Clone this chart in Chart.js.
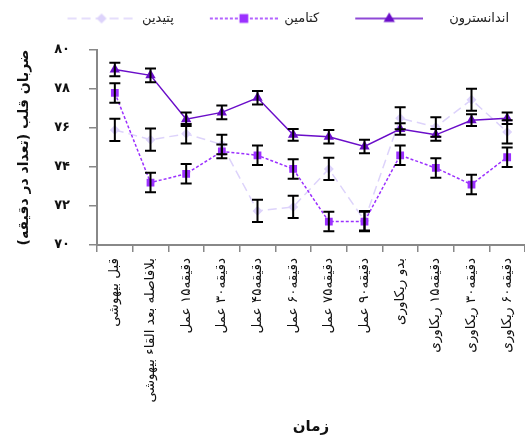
<!DOCTYPE html>
<html><head><meta charset="utf-8">
<script src="https://cdn.jsdelivr.net/npm/chart.js@4/dist/chart.umd.min.js"></script>
<style>html,body{margin:0;padding:0;background:#fff}#c{display:block}</style>
</head><body>
<canvas id="c" width="525" height="438"></canvas>
<script>
const categories = ["قبل بیهوشی","بلافاصله بعد القاء بیهوشی","دقیقه۱۵ عمل","دقیقه۳۰ عمل","دقیقه۴۵ عمل","دقیقه۶۰ عمل","دقیقه۷۵ عمل","دقیقه۹۰ عمل","بدو ریکاوری","دقیقه۱۵ ریکاوری","دقیقه۳۰ ریکاوری","دقیقه۶۰ ریکاوری"];
const seriesNames = ["اندانسترون","کتامین","پتیدین"];
const ondansetron = [79.0, 78.7, 76.45, 76.8, 77.55, 75.65, 75.55, 75.05, 75.95, 75.65, 76.4, 76.5];
const ondansetronErr = [0.35, 0.35, 0.35, 0.35, 0.35, 0.3, 0.35, 0.35, 0.3, 0.3, 0.3, 0.3];
const ketamine = [77.8, 73.2, 73.65, 74.8, 74.6, 73.9, 71.2, 71.2, 74.6, 73.95, 73.1, 74.5];
const ketamineErr = [0.5, 0.5, 0.5, 0.35, 0.5, 0.5, 0.5, 0.5, 0.5, 0.5, 0.5, 0.5];
const pethidine = [75.9, 75.4, 75.7, 75.15, 71.75, 71.95, 73.9, 71.25, 76.5, 76.05, 77.45, 75.8];
const pethidineErr = [0.57, 0.57, 0.5, 0.5, 0.57, 0.57, 0.57, 0.5, 0.56, 0.5, 0.56, 0.6];
const yTicks = [70, 72, 74, 76, 78, 80];
const yTitle = "ضربان قلب (تعداد در دقیقه)";
const xTitle = "زمان";

const FONT = "'DejaVu Sans', sans-serif";
const colors = ['#6a0dc9', '#9b30ff', '#ddd3fb'];
const dashes = [[], [3, 2], [9, 5]];
const styles = ['triangle', 'rect', 'rectRot'];
const radii = [6, 5.5, 5];
const errs = [ondansetronErr, ketamineErr, pethidineErr];
const SAMPLE_BLANK = 20, SAMPLE_LEN = 68;

const toFa = s => String(s).replace(/\d/g, d => '۰۱۲۳۴۵۶۷۸۹'[d]);

function sample(i) {
  const cv = document.createElement('canvas');
  cv.width = SAMPLE_BLANK + SAMPLE_LEN; cv.height = 14;
  const g = cv.getContext('2d');
  const x0 = SAMPLE_BLANK, cx = x0 + SAMPLE_LEN / 2;
  g.strokeStyle = colors[i]; g.lineWidth = 1.5; g.setLineDash(dashes[i]);
  g.beginPath(); g.moveTo(x0, 7); g.lineTo(x0 + SAMPLE_LEN, 7); g.stroke();
  g.setLineDash([]);
  g.fillStyle = colors[i];
  const r = radii[i];
  g.beginPath();
  if (styles[i] === 'triangle') { g.moveTo(cx, 7 - r); g.lineTo(cx + r * 0.95, 7 + r * 0.6); g.lineTo(cx - r * 0.95, 7 + r * 0.6); }
  else if (styles[i] === 'rect') { g.rect(cx - r * 0.8, 7 - r * 0.8, r * 1.6, r * 1.6); }
  else { g.moveTo(cx, 7 - r); g.lineTo(cx + r, 7); g.lineTo(cx, 7 + r); g.lineTo(cx - r, 7); }
  g.closePath(); g.fill();
  return cv;
}
const samples = [0, 1, 2].map(sample);

const errorBars = {
  id: 'errorBars',
  afterDatasetsDraw(chart) {
    const ctx = chart.ctx, y = chart.scales.y;
    ctx.save();
    ctx.strokeStyle = '#000'; ctx.lineWidth = 2;
    chart.data.datasets.forEach((ds, di) => {
      const meta = chart.getDatasetMeta(di);
      meta.data.forEach((pt, i) => {
        const v = ds.data[i], e = errs[di][i];
        const x = pt.x, t = y.getPixelForValue(v + e), b = y.getPixelForValue(v - e);
        ctx.beginPath();
        ctx.moveTo(x, t); ctx.lineTo(x, b);
        ctx.moveTo(x - 5.5, t); ctx.lineTo(x + 5.5, t);
        ctx.moveTo(x - 5.5, b); ctx.lineTo(x + 5.5, b);
        ctx.stroke();
      });
    });
    ctx.restore();
  }
};

const datasets = [ondansetron, ketamine, pethidine].map((d, i) => ({
  label: seriesNames[i],
  data: d,
  borderColor: colors[i],
  backgroundColor: colors[i],
  borderWidth: 1.5,
  borderDash: dashes[i],
  pointStyle: styles[i],
  pointRadius: radii[i],
  pointHoverRadius: radii[i],
  pointBorderWidth: 0,
  tension: 0,
  fill: false
}));

new Chart(document.getElementById('c'), {
  type: 'line',
  data: { labels: categories, datasets },
  plugins: [errorBars],
  options: {
    responsive: false,
    devicePixelRatio: 1,
    animation: false,
    layout: { autoPadding: false, padding: { top: -4, right: 0, left: 0, bottom: 0 } },
    plugins: {
      tooltip: { enabled: false },
      title: { display: true, text: ' ', weight: 500, font: { size: 10, lineHeight: 1.2 }, padding: { top: 3, bottom: 0 } },
      legend: {
        position: 'top',
        align: 'end',
        weight: 3000,
        labels: {
          usePointStyle: true,
          pointStyleWidth: SAMPLE_BLANK + SAMPLE_LEN,
          boxHeight: 13,
          padding: 16,
          color: '#222',
          font: { family: FONT, size: 13 },
          sort: (a, b) => b.datasetIndex - a.datasetIndex,
          generateLabels(chart) {
            const items = Chart.defaults.plugins.legend.labels.generateLabels(chart);
            items.forEach(it => {
              it.pointStyle = samples[it.datasetIndex];
              if (it.datasetIndex === 0) it.text = '\u2003\u2002' + it.text;
            });
            return items;
          }
        }
      }
    },
    scales: {
      x: {
        offset: true,
        afterFit(scale) { scale.height = 193; scale.paddingLeft = 0; scale.paddingRight = 0; },
        grid: { offset: true, drawOnChartArea: false, color: '#888', lineWidth: 1.5, tickLength: 7 },
        border: { color: '#888', width: 2 },
        ticks: { color: '#111', font: { family: FONT, size: 13.5 }, minRotation: 90, maxRotation: 90, autoSkip: false, padding: 6 },
        title: { display: true, text: xTitle, color: '#111', font: { family: FONT, size: 15, weight: 'bold' }, padding: { top: 4, bottom: 2 } }
      },
      y: {
        min: 70, max: 80,
        afterFit(scale) { scale.width = 97; scale.paddingTop = 0; scale.paddingBottom = 0; },
        afterBuildTicks(scale) { scale.ticks = yTicks.map(v => ({ value: v })); },
        grid: { drawOnChartArea: false, color: '#888', lineWidth: 1.5, tickLength: 8 },
        border: { color: '#888', width: 2 },
        ticks: { color: '#111', font: { family: FONT, size: 13, weight: 'bold' }, padding: 19, callback: v => toFa(v) },
        title: { display: true, text: yTitle, color: '#111', font: { family: FONT, size: 14, weight: 'bold' }, padding: { top: 16, bottom: 4 } }
      }
    }
  }
});
</script>
</body></html>
